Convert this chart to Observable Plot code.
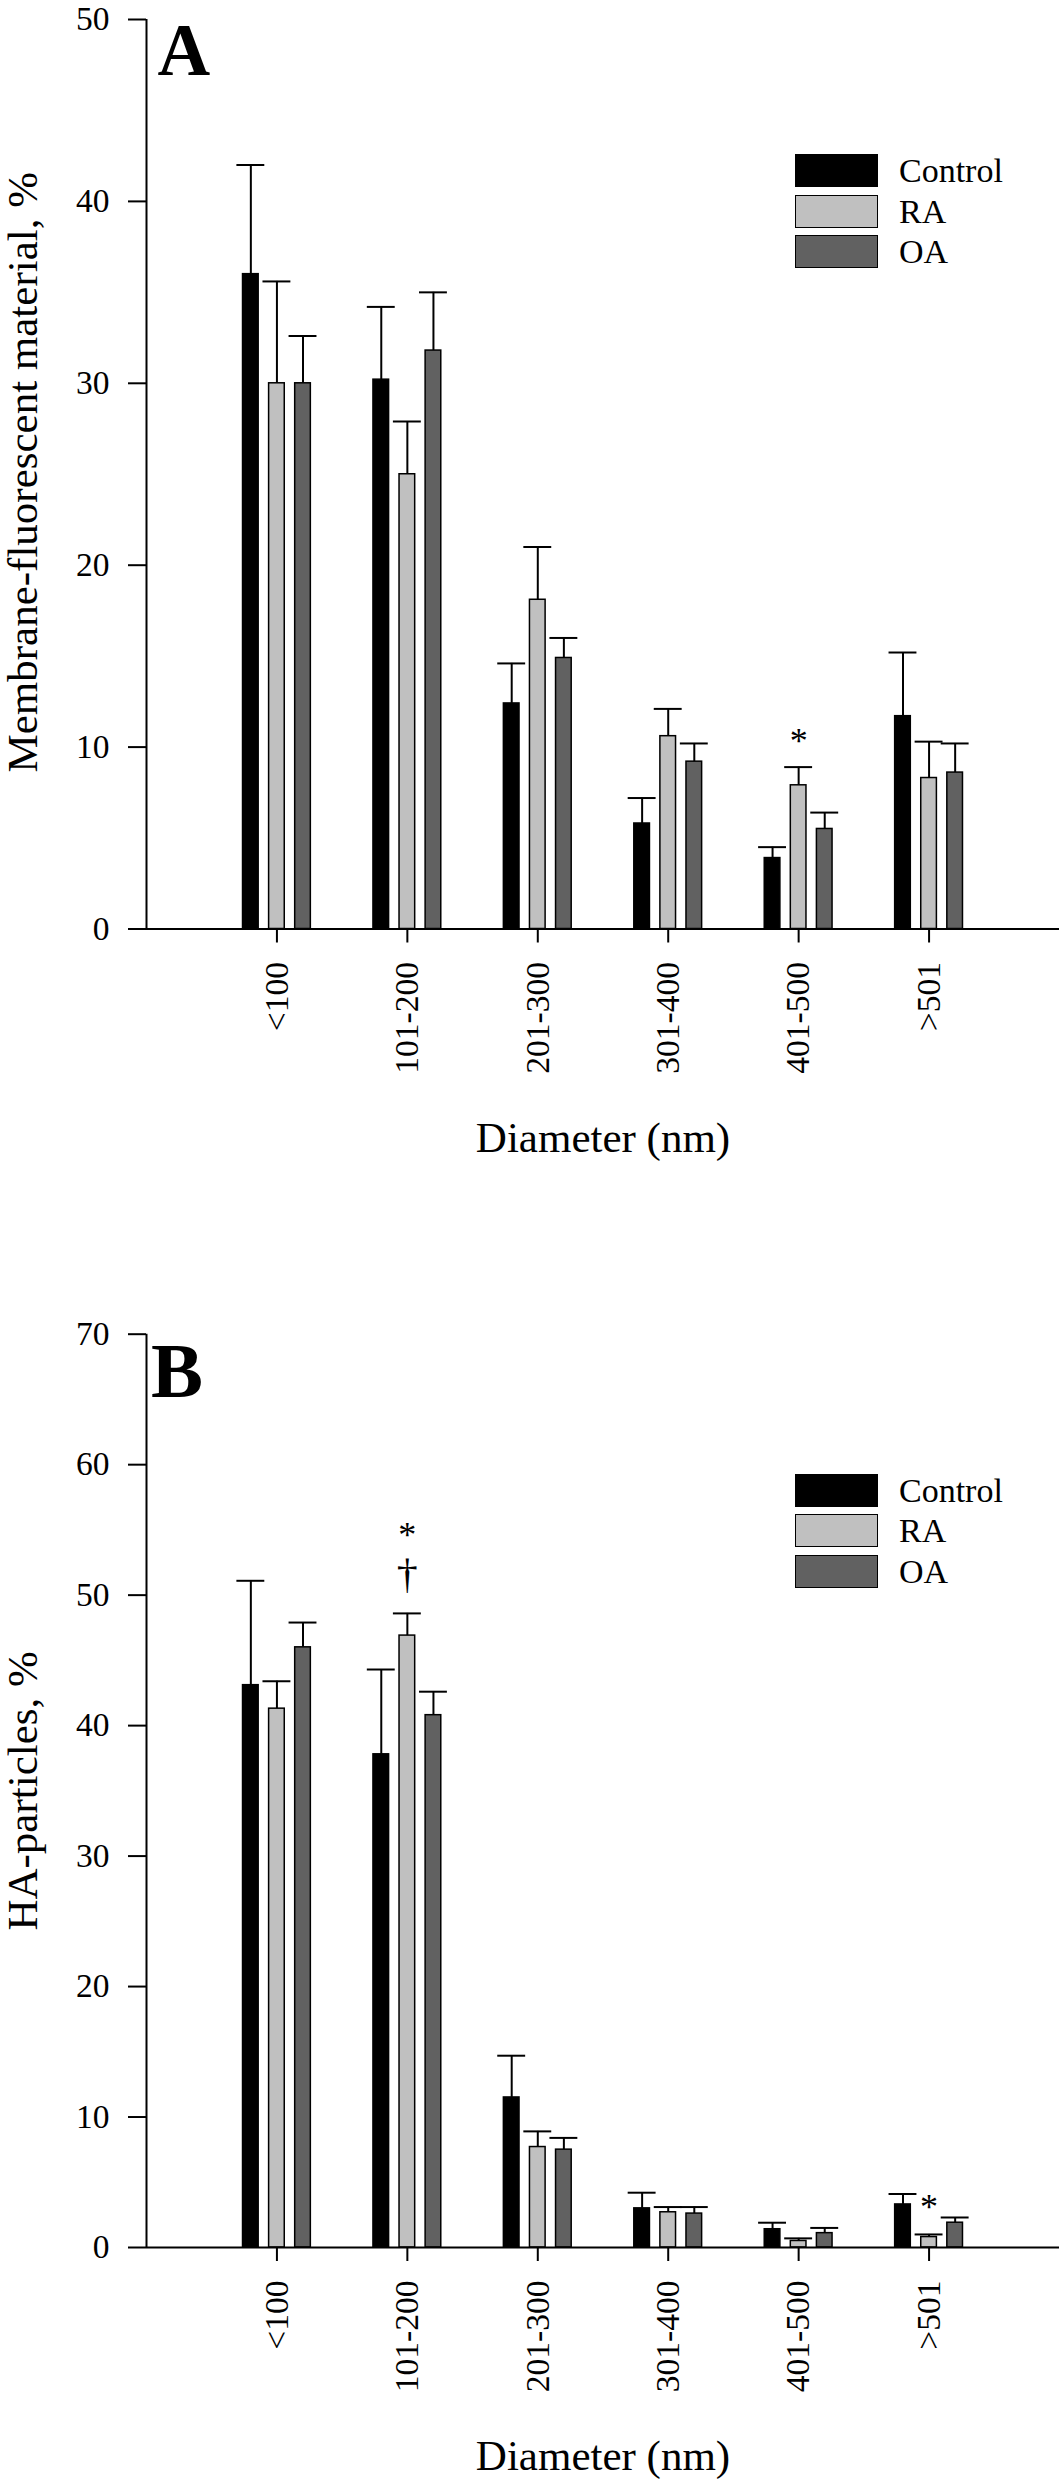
<!DOCTYPE html>
<html><head><meta charset="utf-8">
<script src="https://cdn.jsdelivr.net/npm/d3@7"></script>
<script src="https://cdn.jsdelivr.net/npm/@observablehq/plot@0.6"></script>
<style>
body{margin:0;background:#fff}
#root{position:relative;width:1064px;height:2481px;background:#fff;overflow:hidden}
#root svg{display:block;font-family:"Liberation Serif","Times New Roman",serif !important}
#root svg text{font-family:"Liberation Serif","Times New Roman",serif !important}
#root svg g[aria-label*="axis"]{font-size:33.5px !important;font-family:"Liberation Serif","Times New Roman",serif !important}
#root svg g[aria-label*="axis"] text{font-size:33.5px !important}
svg [aria-label*="axis"] line, svg [aria-label*="axis"] path{stroke-width:2px}
.legend{position:absolute;left:795px;font-family:"Liberation Serif","Times New Roman",serif;font-size:34px;color:#000}
.legend .row{display:flex;align-items:flex-start;height:40.3px}
.legend .sw{box-sizing:border-box;width:83px;height:33px;border:1.5px solid #000}
.legend .lab{margin-left:21px;line-height:33px;white-space:nowrap}
</style></head>
<body><div id="root"></div>
<script>
// ---- data ----
const categories = ["<100", "101-200", "201-300", "301-400", "401-500", ">501"];
const series = ["Control", "RA", "OA"];
const seriesColors = ["#000000", "#c0c0c0", "#616161"];

// Panel A: membrane-fluorescent material, % (mean and SE)
const membraneControl = [36.0, 30.2, 12.4, 5.8, 3.9, 11.7];
const membraneControlSE = [6.0, 4.0, 2.2, 1.4, 0.6, 3.5];
const membraneRA = [30.0, 25.0, 18.1, 10.6, 7.9, 8.3];
const membraneRASE = [5.6, 2.9, 2.9, 1.5, 1.0, 2.0];
const membraneOA = [30.0, 31.8, 14.9, 9.2, 5.5, 8.6];
const membraneOASE = [2.6, 3.2, 1.1, 1.0, 0.9, 1.6];
const yTicksA = [0, 10, 20, 30, 40, 50];
const annoACategory = ["401-500"];
const annoASeries = ["RA"];
const annoASymbol = ["*"];
const annoAValue = [10.3];

// Panel B: HA-particles, % (mean and SE)
const haControl = [43.1, 37.8, 11.5, 3.0, 1.4, 3.3];
const haControlSE = [8.0, 6.5, 3.2, 1.2, 0.5, 0.8];
const haRA = [41.3, 46.9, 7.7, 2.7, 0.5, 0.8];
const haRASE = [2.1, 1.7, 1.2, 0.4, 0.2, 0.2];
const haOA = [46.0, 40.8, 7.5, 2.6, 1.1, 1.9];
const haOASE = [1.9, 1.8, 0.9, 0.5, 0.4, 0.4];
const yTicksB = [0, 10, 20, 30, 40, 50, 60, 70];
const annoBCategory = ["101-200", "101-200", ">501"];
const annoBSeries = ["RA", "RA", "RA"];
const annoBSymbol = ["*", "\u2020", "*"];
const annoBValue = [54.6, 51.6, 3.1];

// ---- layout ----
const groupOffset = [-0.2, 0, 0.2];
const barHalf = 0.06;
const capHalf = 0.107;
const FONT = '"Liberation Serif", "Times New Roman", serif';

function buildRows(means, ses) {
  const rows = [];
  series.forEach((s, j) => categories.forEach((c, i) => rows.push({
    cat: c, series: s, xc: i + 1 + groupOffset[j], value: means[j][i], upper: means[j][i] + ses[j][i]
  })));
  return rows;
}
function buildAnnos(cats, sers, syms, vals) {
  return cats.map((c, k) => ({
    xc: categories.indexOf(c) + 1 + groupOffset[series.indexOf(sers[k])],
    symbol: syms[k], value: vals[k]
  }));
}

function panel(o) {
  const data = buildRows(o.means, o.ses);
  return Plot.plot({
    width: 1064, height: o.height,
    marginLeft: 146, marginRight: 5, marginTop: o.marginTop, marginBottom: o.marginBottom,
    style: {fontFamily: FONT, fontSize: "33.5px", color: "black", background: "white", overflow: "visible"},
    x: {type: "linear", domain: [0, 7], ticks: categories.map((c, i) => i + 1),
        tickFormat: i => categories[i - 1], tickSize: 14, tickPadding: 19, tickRotate: -90, label: null},
    y: {domain: [0, o.yTicks[o.yTicks.length - 1]], ticks: o.yTicks, tickSize: 18, tickPadding: 19, label: null},
    color: {domain: series, range: seriesColors},
    marks: [
      Plot.ruleX(data, {x: "xc", y1: "value", y2: "upper", stroke: "black", strokeWidth: 2}),
      Plot.ruleY(data, {y: "upper", x1: d => d.xc - capHalf, x2: d => d.xc + capHalf, stroke: "black", strokeWidth: 2}),
      Plot.rect(data, {x1: d => d.xc - barHalf, x2: d => d.xc + barHalf, y1: 0, y2: "value", fill: "series", stroke: "black", strokeWidth: 1.5}),
      Plot.ruleY([0], {stroke: "black", strokeWidth: 2}),
      Plot.ruleX([0], {stroke: "black", strokeWidth: 2}),
      Plot.text(o.annos, {x: "xc", y: "value", text: "symbol", fontSize: d => d.symbol === "*" ? 36 : 42, fill: "black"}),
      Plot.text([o.yLabel], {frameAnchor: "left", textAnchor: "middle", lineAnchor: "middle", rotate: -90, dx: -123, dy: o.yLabelDy, fontSize: 43, fill: "black"}),
      Plot.text(["Diameter (nm)"], {frameAnchor: "bottom", textAnchor: "middle", lineAnchor: "middle", dy: 209, fontSize: 43, fill: "black"}),
      Plot.text([o.letter], {frameAnchor: "top-left", textAnchor: "start", lineAnchor: "top",
        dx: o.letterDx, dy: o.letterDy, fontSize: o.letterSize, fontWeight: "bold", fill: "black"})
    ]
  });
}

function legend(top) {
  const div = document.createElement("div");
  div.className = "legend";
  div.style.top = top + "px";
  series.forEach((s, j) => {
    const row = document.createElement("div");
    row.className = "row";
    const sw = document.createElement("span");
    sw.className = "sw";
    sw.style.background = seriesColors[j];
    const lab = document.createElement("span");
    lab.className = "lab";
    lab.textContent = s;
    row.append(sw, lab);
    div.append(row);
  });
  return div;
}

const root = document.getElementById("root");
root.append(panel({
  means: [membraneControl, membraneRA, membraneOA],
  ses: [membraneControlSE, membraneRASE, membraneOASE],
  yTicks: yTicksA, yLabel: "Membrane-fluorescent material, %", yLabelDy: -2,
  annos: buildAnnos(annoACategory, annoASeries, annoASymbol, annoAValue),
  letter: "A", letterSize: 73, letterDx: 11, letterDy: 3.2,
  height: 1240, marginTop: 19, marginBottom: 311.5
}));
root.append(panel({
  means: [haControl, haRA, haOA],
  ses: [haControlSE, haRASE, haOASE],
  yTicks: yTicksB, yLabel: "HA-particles, %", yLabelDy: 0,
  annos: buildAnnos(annoBCategory, annoBSeries, annoBSymbol, annoBValue),
  letter: "B", letterSize: 78, letterDx: 4.5, letterDy: 7.9,
  height: 1241, marginTop: 93.7, marginBottom: 234
}));
root.append(legend(154.3));
root.append(legend(1474));
</script>
</body></html>
